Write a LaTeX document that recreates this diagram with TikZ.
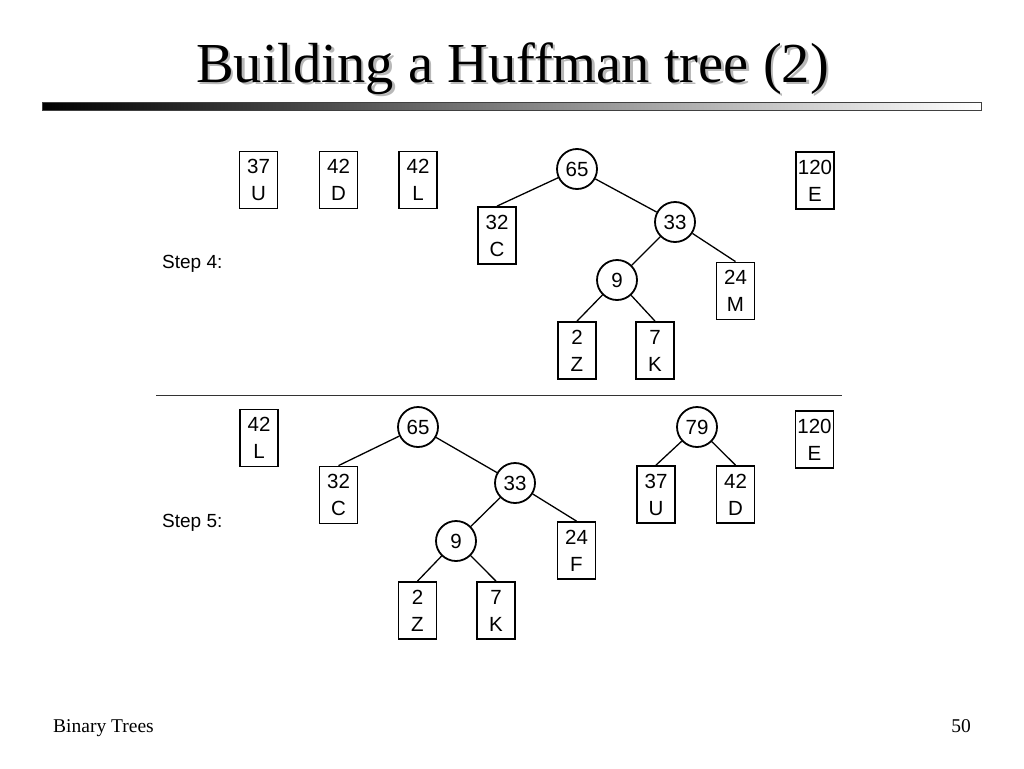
\documentclass[tikz,border=0pt]{standalone}
\usepackage{fontspec}
\setmainfont{Liberation Serif}
\newfontfamily\sansf{Liberation Sans}
\newcommand{\shadowtitle}[1]{\rlap{\hspace{2.5pt}\raisebox{-2.5pt}{\textcolor{black!28}{#1}}}#1}
\begin{document}
\begin{tikzpicture}[x=1pt,y=-1pt,
  leaf/.style={draw, line width=1.8pt, minimum width=38pt, minimum height=57pt, inner sep=0pt, align=center, font=\sansf\fontsize{20.5}{27}\selectfont},
  inner/.style={draw, circle, line width=1.8pt, minimum size=40pt, inner sep=0pt, font=\sansf\fontsize{20.5}{23}\selectfont},
  edge/.style={line width=1.3pt},
  steplabel/.style={anchor=base west, inner sep=0pt, font=\sansf\fontsize{19}{23}\selectfont},
  titletext/.style={anchor=base, inner sep=0pt, font=\fontsize{56.5}{64}\selectfont},
  foot/.style={inner sep=0pt, font=\fontsize{19.5}{20}\selectfont}]
\useasboundingbox (0,0) rectangle (1024,768);
\fill[white] (0,0) rectangle (1024,768);
% title with shadow
\node[titletext] (title) at (512.5,82) {\shadowtitle{Building a Huffman tree (2)}};
% gradient bar
\shade[left color=black, right color=white] (42,102) rectangle (981,110);
\draw[black!75, line width=0.8pt] (42,102) rectangle (981,110);
% ---------- Step 4 ----------
\node[steplabel] (step4) at (162,268) {Step 4:};
\node[leaf] (U4) at (258.5,180) {37\\U};
\node[leaf] (D4) at (338.5,180) {42\\D};
\node[leaf] (L4) at (418,180) {42\\L};
\node[leaf] (E4) at (815,180.5) {120\\E};
\node[inner] (r4) at (577,169) {65};
\node[leaf] (C4) at (497,235.5) {32\\C};
\node[inner] (t4) at (675,222) {33};
\node[inner] (n4) at (617,280) {9};
\node[leaf] (M4) at (735.5,291) {24\\M};
\node[leaf] (Z4) at (577,350.5) {2\\Z};
\node[leaf] (K4) at (655,350.5) {7\\K};
\draw[edge] (r4) -- (C4.north);
\draw[edge] (r4) -- (t4);
\draw[edge] (t4) -- (n4);
\draw[edge] (t4) -- (M4.north);
\draw[edge] (n4) -- (Z4.north);
\draw[edge] (n4) -- (K4.north);
% separator
\coordinate (sepL) at (156,395);
\coordinate (sepR) at (842,395);
\draw[line width=1pt, black!80] (sepL) -- (sepR);
% ---------- Step 5 ----------
\node[steplabel] (step5) at (162,527.5) {Step 5:};
\node[leaf] (L5) at (259,438) {42\\L};
\node[inner] (r5) at (418,427) {65};
\node[leaf] (C5) at (338.5,495) {32\\C};
\node[inner] (t5) at (515,483) {33};
\node[inner] (n5) at (456,541) {9};
\node[leaf] (F5) at (576.5,550.5) {24\\F};
\node[leaf] (Z5) at (417.5,610.5) {2\\Z};
\node[leaf] (K5) at (496,610.5) {7\\K};
\node[inner] (s5) at (697,427) {79};
\node[leaf] (U5) at (656,494.5) {37\\U};
\node[leaf] (D5) at (735.5,494.5) {42\\D};
\node[leaf] (E5) at (814.5,439.5) {120\\E};
\draw[edge] (r5) -- (C5.north);
\draw[edge] (r5) -- (t5);
\draw[edge] (t5) -- (n5);
\draw[edge] (t5) -- (F5.north);
\draw[edge] (n5) -- (Z5.north);
\draw[edge] (n5) -- (K5.north);
\draw[edge] (s5) -- (U5.north);
\draw[edge] (s5) -- (D5.north);
% footer
\node[foot, anchor=base west] (footL) at (53,732) {Binary Trees};
\node[foot, anchor=base east] (footR) at (971,732) {50};
\end{tikzpicture}
\end{document}
